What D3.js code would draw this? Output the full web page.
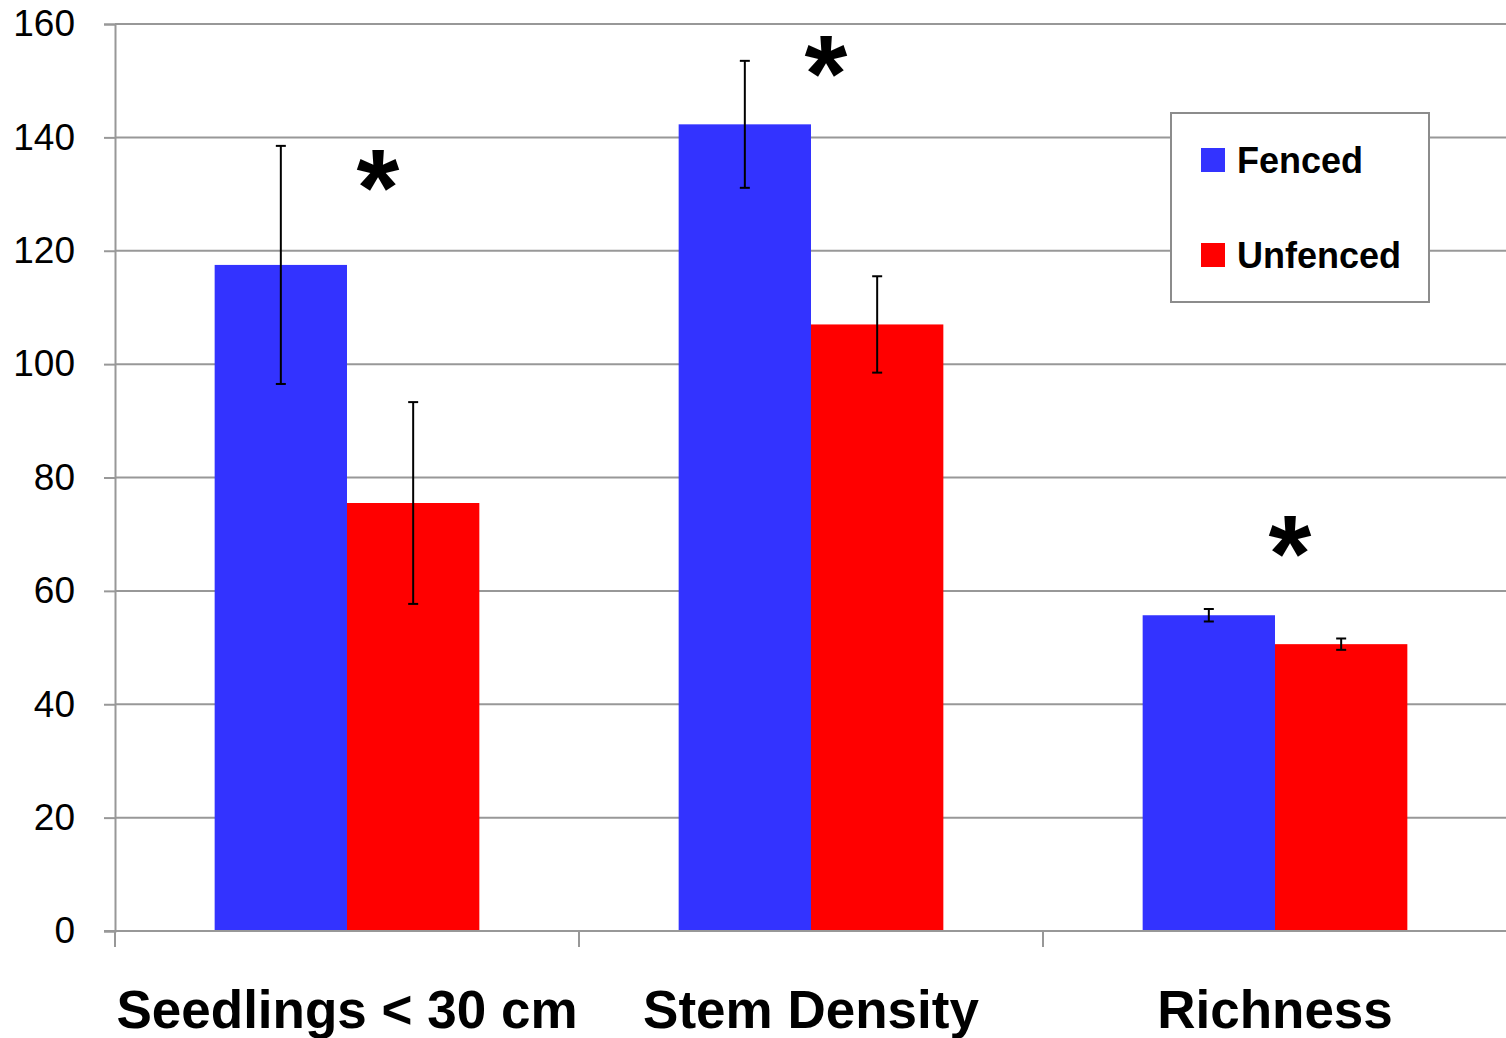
<!DOCTYPE html>
<html>
<head>
    <meta charset="utf-8">
    <title>fenced vs unfenced</title>
    <script type="text/javascript" src="https://cdn.jsdelivr.net/npm/d3@7"></script>
    <style>
      body { margin: 0; background: #fff; }
    </style>
</head>
<body>
<script type="text/javascript">

        var width = 1506
        var height = 1038

        // data
        var categories = ["Seedlings < 30 cm", "Stem Density", "Richness"]
        var seriesNames = ["Fenced", "Unfenced"]
        var fenced = [117.5, 142.3, 55.7]
        var unfenced = [75.5, 107.0, 50.6]
        var fencedErr = [21.0, 11.2, 1.1]
        var unfencedErr = [17.8, 8.5, 1.0]
        // significance stars: height (in y units) and shift from group centre
        var starLevel = [133.9, 154.0, 69.3]
        var starShift = [31, 15, 15]
        var yTicks = [0, 20, 40, 60, 80, 100, 120, 140, 160]
        var colors = ["#3333ff", "#ff0000"]

        var margin = {top: 24, right: -1, bottom: 107, left: 115}

        var svg = d3.select("body").append("svg").attr("width", width).attr("height", height)

        var x = d3.scaleBand()
            .domain(categories)
            .range([margin.left, width - margin.right])
            .paddingInner(0)
            .paddingOuter(0)

        var y = d3.scaleLinear()
            .domain([0, 160])
            .range([height - margin.bottom, margin.top])

        var inner = d3.scaleBand()
            .domain(seriesNames)
            .range([0, x.bandwidth()])
            .paddingOuter(0.753)
            .paddingInner(0)

        // gridlines
        svg.append("g")
            .selectAll("line")
            .data(yTicks.slice(1))
            .enter()
            .append("line")
            .attr("x1", margin.left)
            .attr("x2", width)
            .attr("y1", function(d) { return y(d) })
            .attr("y2", function(d) { return y(d) })
            .attr("stroke", "#989898")
            .attr("stroke-width", 2)

        var rows = categories.map(function(c, i) {
            return [
                {cat: c, s: "Fenced", v: fenced[i], e: fencedErr[i], col: colors[0]},
                {cat: c, s: "Unfenced", v: unfenced[i], e: unfencedErr[i], col: colors[1]}
            ]
        })
        var flat = [].concat.apply([], rows)

        svg.append("g")
            .selectAll("rect")
            .data(flat)
            .enter()
            .append("rect")
            .attr("x", function(d) { return x(d.cat) + inner(d.s) })
            .attr("width", inner.bandwidth())
            .attr("y", function(d) { return y(d.v) })
            .attr("height", function(d) { return y(0) - y(d.v) })
            .attr("fill", function(d) { return d.col })

        // error bars
        var eb = svg.append("g").attr("stroke", "#000").attr("stroke-width", 2)
        flat.forEach(function(d) {
            var cx = x(d.cat) + inner(d.s) + inner.bandwidth() / 2
            eb.append("line").attr("x1", cx).attr("x2", cx)
                .attr("y1", y(d.v + d.e)).attr("y2", y(d.v - d.e))
            eb.append("line").attr("x1", cx - 5).attr("x2", cx + 5)
                .attr("y1", y(d.v + d.e)).attr("y2", y(d.v + d.e))
            eb.append("line").attr("x1", cx - 5).attr("x2", cx + 5)
                .attr("y1", y(d.v - d.e)).attr("y2", y(d.v - d.e))
        })

        // asterisks
        svg.append("g")
            .selectAll("text")
            .data(categories)
            .enter()
            .append("text")
            .attr("x", function(d, i) { return x(d) + x.bandwidth() / 2 + starShift[i] })
            .attr("y", function(d, i) { return y(starLevel[i]) + 53 })
            .attr("text-anchor", "middle")
            .attr("font-family", "Liberation Sans, Arial, sans-serif")
            .attr("font-weight", "bold")
            .attr("font-size", 110)
            .text("*")

        // y axis
        var yAxis = svg.append("g")
            .attr("transform", "translate(" + margin.left + ",0)")
            .call(d3.axisLeft(y).tickValues(yTicks).tickSize(11).tickPadding(29))
        yAxis.select(".domain").attr("stroke", "#989898").attr("stroke-width", 2)
        yAxis.selectAll(".tick line").attr("stroke", "#989898").attr("stroke-width", 2)
        yAxis.selectAll("text")
            .attr("font-family", "Liberation Sans, Arial, sans-serif")
            .attr("font-size", 37)
            .attr("fill", "#000")

        // x axis
        var xAxis = svg.append("g")
            .attr("transform", "translate(0," + y(0) + ")")
        xAxis.append("line")
            .attr("x1", margin.left - 11).attr("x2", width)
            .attr("y1", 0).attr("y2", 0)
            .attr("stroke", "#989898").attr("stroke-width", 2)
        xAxis.selectAll(".xt")
            .data(categories)
            .enter()
            .append("line")
            .attr("class", "xt")
            .attr("x1", function(d) { return x(d) }).attr("x2", function(d) { return x(d) })
            .attr("y1", 0).attr("y2", 16)
            .attr("stroke", "#989898").attr("stroke-width", 2)
        xAxis.selectAll("text")
            .data(categories)
            .enter()
            .append("text")
            .attr("x", function(d) { return x(d) + x.bandwidth() / 2 })
            .attr("y", 97)
            .attr("text-anchor", "middle")
            .attr("font-family", "Liberation Sans, Arial, sans-serif")
            .attr("font-weight", "bold")
            .attr("font-size", 53)
            .attr("fill", "#000")
            .text(function(d) { return d })

        // legend
        var lg = svg.append("g").attr("transform", "translate(1171,113)")
        lg.append("rect")
            .attr("width", 258).attr("height", 189)
            .attr("fill", "#fff").attr("stroke", "#8c8c8c").attr("stroke-width", 2)
        lg.selectAll(".sw")
            .data(seriesNames)
            .enter()
            .append("rect")
            .attr("x", 30)
            .attr("y", function(d, i) { return 35 + i * 95 })
            .attr("width", 24).attr("height", 24)
            .attr("fill", function(d, i) { return colors[i] })
        lg.selectAll("text")
            .data(seriesNames)
            .enter()
            .append("text")
            .attr("x", 66)
            .attr("y", function(d, i) { return 60 + i * 95 })
            .attr("font-family", "Liberation Sans, Arial, sans-serif")
            .attr("font-weight", "bold")
            .attr("font-size", 36)
            .attr("fill", "#000")
            .text(function(d) { return d })
</script>
</body>
</html>
